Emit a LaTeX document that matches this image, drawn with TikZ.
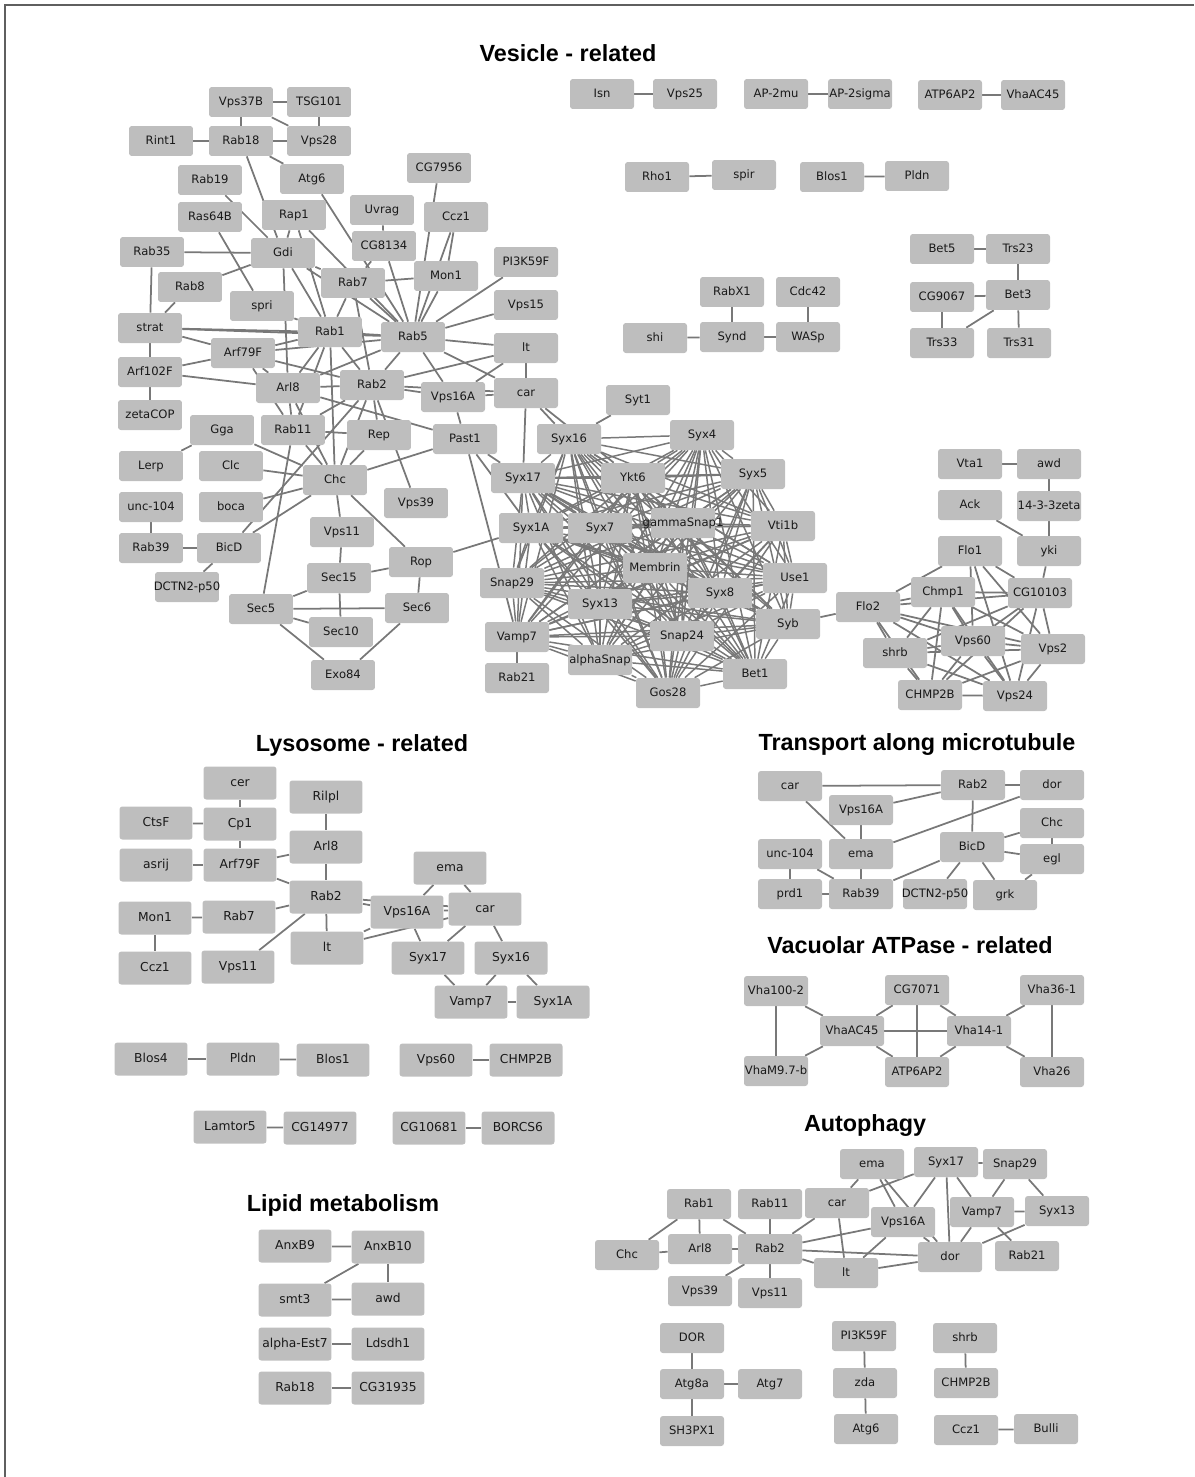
\documentclass[tikz,border=0pt]{standalone}
\usepackage{fontspec}
\newfontfamily\genefont{DejaVu Sans}
\newfontfamily\headfont{Liberation Sans}
\usetikzlibrary{backgrounds}
\definecolor{boxgray}{RGB}{190,190,190}
\definecolor{edgegray}{RGB}{120,120,120}
\definecolor{framegray}{RGB}{95,95,95}
\tikzset{
  gene/.style={fill=boxgray, rounded corners=1.6pt, minimum width=1.28cm, minimum height=0.6cm,
    inner sep=0pt, text height=5pt, text depth=1.3pt, text=black!90,
    font=\genefont\fontsize{6.6}{8}\selectfont},
  widegene/.style={gene, minimum width=1.46cm, minimum height=0.66cm,
    font=\genefont\fontsize{7}{8.5}\selectfont},
  link/.style={draw=edgegray, line width=1pt},
  heading/.style={font=\headfont\bfseries\fontsize{13.3}{16}\selectfont}
}
\def\snarelist{Syx16,Syx4,Syx5,Ykt6,Syx17,Syx1A,Syx7,gammaSnap1,Vti1b,Membrin,Use1,Snap29,Syx8,Syx13,Syb,Vamp7,Snap24,alphaSnap,Bet1,Gos28}
\def\escrtlist{Chmp1,CG10103,Vps60,shrb,Vps2,CHMP2B,Vps24}
\begin{document}
\begin{tikzpicture}[x=0.02cm, y=-0.02cm]
\useasboundingbox (0,0) rectangle (1194,1477);
\draw[framegray, line width=1.2pt] (5,1477) -- (5,5) -- (1194,5);

% headings
\node[heading] (hVes) at (568,53) {Vesicle - related};
\node[heading] (hLys) at (362,745) {Lysosome - related};
\node[heading] (hTra) at (917,745) {Transport along microtubule};
\node[heading] (hVac) at (910,945) {Vacuolar ATPase - related};
\node[heading] (hAut) at (865,1125) {Autophagy};
\node[heading] (hLip) at (343,1205) {Lipid metabolism};

% vesicle - related
\foreach \n/\x/\y/\t in {
  Vps37B/241/102/Vps37B, TSG101/319/102/TSG101, Rint1/161/141/Rint1, Rab18/241/141/Rab18,
  Vps28/319/141/Vps28, Rab19/210/180/Rab19, Atg6/312/179/Atg6, CG7956/439/168/CG7956,
  Ras64B/210/217/Ras64B, Rap1/294/215/Rap1, Uvrag/382/210/Uvrag, Ccz1/456/217/Ccz1,
  Rab35/152/252/Rab35, Gdi/283/253/Gdi, CG8134/384/246/CG8134, PI3K59F/526/262/PI3K59F,
  Rab8/190/287/Rab8, Rab7/353/283/Rab7, Mon1/446/276/Mon1, spri/262/306/spri,
  Vps15/526/305/Vps15, strat/150/328/strat, Rab1/330/332/Rab1, Rab5/413/337/Rab5,
  lt/526/348/lt, Arf79F/243/353/Arf79F, Arf102F/150/372/Arf102F, Arl8/288/388/Arl8,
  Rab2/372/385/Rab2, Vps16A/453/397/Vps16A, car/526/393/car, zetaCOP/150/415/zetaCOP,
  Gga/222/430/Gga, Rab11/293/430/Rab11, Rep/379/435/Rep, Past1/465/439/Past1,
  Lerp/151/466/Lerp, Clc/231/466/Clc, Chc/335/480/Chc, Vps39/416/503/Vps39,
  unc104/151/507/unc-104, boca/231/507/boca, Rab39/151/548/Rab39, BicD/229/548/BicD,
  Vps11/342/532/Vps11, Rop/421/562/Rop, DCTN2p50/187/587/DCTN2-p50, Sec15/339/578/Sec15,
  Sec5/261/609/Sec5, Sec6/417/608/Sec6, Sec10/341/632/Sec10, Exo84/343/675/Exo84,
  Syt1/638/400/Syt1, Syx16/569/439/Syx16, Syx4/702/435/Syx4, Syx17/523/478/Syx17,
  Ykt6/633/478/Ykt6, Syx5/753/474/Syx5, Syx1A/531/528/Syx1A, Syx7/600/528/Syx7,
  gammaSnap1/683/523/gammaSnap1, Vti1b/783/526/Vti1b, Membrin/655/568/Membrin,
  Use1/795/578/Use1, Snap29/512/583/Snap29, Syx8/720/593/Syx8, Syx13/600/604/Syx13,
  Syb/788/624/Syb, Vamp7/517/637/Vamp7, Snap24/682/636/Snap24, alphaSnap/600/660/alphaSnap,
  Bet1/755/674/Bet1, Rab21/517/678/Rab21, Gos28/668/693/Gos28,
  Vta1/970/464/Vta1, awd/1049/464/awd, Ack/970/505/Ack, zeta1433/1049/506/14-3-3zeta,
  Flo1/970/551/Flo1, yki/1049/551/yki, Chmp1/943/592/Chmp1, CG10103/1040/593/CG10103,
  Flo2/868/607/Flo2, Vps60/973/641/Vps60, shrb/895/653/shrb, Vps2/1053/649/Vps2,
  CHMP2B/930/695/CHMP2B, Vps24/1015/696/Vps24,
  Isn/602/94/Isn, Vps25/685/94/Vps25, AP2mu/776/94/AP-2mu, AP2sigma/860/94/AP-2sigma,
  ATP6AP2/950/95/ATP6AP2, VhaAC45/1033/95/VhaAC45, Rho1/657/177/Rho1, spir/744/175/spir,
  Blos1/832/177/Blos1, Pldn/917/176/Pldn, Bet5/942/249/Bet5, Trs23/1018/249/Trs23,
  RabX1/732/292/RabX1, Cdc42/808/292/Cdc42, CG9067/942/297/CG9067, Bet3/1018/295/Bet3,
  shi/655/338/shi, Synd/732/337/Synd, WASp/808/337/WASp, Trs33/942/343/Trs33,
  Trs31/1019/343/Trs31}
  \node[gene] (\n) at (\x,\y) {\makebox[0pt]{\t}};

% lysosome - related
\foreach \n/\x/\y/\t in {
  lcer/240/783/cer, lRilpl/326/797/Rilpl, lCtsF/156/823/CtsF, lCp1/240/824/Cp1,
  lArl8/326/847/Arl8, lasrij/156/865/asrij, lArf79F/240/865/Arf79F, lema/450/868/ema,
  lRab2/326/897/Rab2, lcar/485/909/car, lVps16A/407/912/Vps16A, lMon1/155/918/Mon1,
  lRab7/239/917/Rab7, llt/327/948/lt, lCcz1/155/968/Ccz1, lVps11/238/967/Vps11,
  lSyx17/428/958/Syx17, lSyx16/511/958/Syx16, lVamp7/471/1002/Vamp7, lSyx1A/553/1002/Syx1A,
  lBlos4/151/1059/Blos4, lPldn/243/1059/Pldn, lBlos1/333/1060/Blos1, lVps60/436/1060/Vps60,
  lCHMP2B/526/1060/CHMP2B, lLamtor5/230/1127/Lamtor5, lCG14977/320/1128/CG14977,
  lCG10681/429/1128/CG10681, lBORCS6/518/1128/BORCS6}
  \node[widegene] (\n) at (\x,\y) {\makebox[0pt]{\t}};

% transport along microtubule, vacuolar ATPase, autophagy
\foreach \n/\x/\y/\t in {
  tcar/790/786/car, tRab2/973/785/Rab2, tdor/1052/785/dor, tVps16A/861/810/Vps16A,
  tChc/1052/823/Chc, tBicD/972/847/BicD, tunc104/790/854/unc-104, tema/861/854/ema,
  tegl/1052/859/egl, tprd1/790/894/prd1, tRab39/861/894/Rab39, tDCTN2p50/935/894/DCTN2-p50,
  tgrk/1005/895/grk,
  hVha1002/776/991/Vha100-2, hCG7071/917/990/CG7071, hVha361/1052/990/Vha36-1,
  hVhaAC45/852/1031/VhaAC45, hVha141/979/1031/Vha14-1, hVhaM97b/776/1071/VhaM9.7-b,
  hATP6AP2/917/1072/ATP6AP2, hVha26/1052/1072/Vha26,
  aema/872/1164/ema, aSyx17/946/1162/Syx17, aSnap29/1015/1164/Snap29, aRab1/699/1204/Rab1,
  aRab11/770/1204/Rab11, acar/837/1203/car, aVps16A/903/1222/Vps16A, aVamp7/982/1212/Vamp7,
  aSyx13/1057/1211/Syx13, aChc/627/1255/Chc, aArl8/700/1249/Arl8, aRab2/770/1249/Rab2,
  ador/950/1257/dor, aRab21/1027/1256/Rab21, alt/846/1273/lt, aVps39/700/1291/Vps39,
  aVps11/770/1293/Vps11, aDOR/692/1338/DOR, aPI3K59F/864/1336/PI3K59F, ashrb/965/1338/shrb,
  aAtg8a/692/1384/Atg8a, aAtg7/770/1384/Atg7, azda/865/1383/zda, aCHMP2B/966/1383/CHMP2B,
  aSH3PX1/692/1431/SH3PX1, aAtg6/866/1429/Atg6, aCcz1/966/1430/Ccz1, aBulli/1046/1429/Bulli}
  \node[gene] (\n) at (\x,\y) {\makebox[0pt]{\t}};

% lipid metabolism
\foreach \n/\x/\y/\t in {
  pAnxB9/295/1246/AnxB9, pAnxB10/388/1247/AnxB10, psmt3/295/1300/smt3, pawd/388/1299/awd,
  palphaEst7/295/1344/alpha-Est7, pLdsdh1/388/1344/Ldsdh1, pRab18/295/1388/Rab18,
  pCG31935/388/1388/CG31935}
  \node[widegene] (\n) at (\x,\y) {\makebox[0pt]{\t}};

\begin{scope}[on background layer]
  % vesicle cluster, left part
  \foreach \a/\b in {
    Vps37B/TSG101, Vps37B/Rab18, Vps37B/Vps28, TSG101/Vps28, Rint1/Rab18, Rab18/Vps28,
    Rab18/Atg6, Rab18/Gdi, Rab19/Gdi, Ras64B/spri, Rab35/Gdi, Rab35/strat, Rab8/Gdi,
    Rab8/strat, Rap1/Gdi, Rap1/Rab1, Rap1/Rab5, Atg6/Rab5, Uvrag/CG8134, CG8134/Rab5,
    CG8134/Rab7, CG7956/Rab5, Ccz1/Mon1, Ccz1/Rab5, Mon1/Rab7, Mon1/Rab5, PI3K59F/Rab5,
    Vps15/Rab5, Gdi/Rab1, Gdi/Rab7, Gdi/Rab5, Gdi/Arl8, spri/Rab1, strat/Rab1, strat/Rab5,
    strat/Arf79F, strat/Arf102F, Arf102F/zetaCOP, Arf102F/Arf79F, Arf102F/Arl8,
    Arf79F/Rab1, Arf79F/Rab5, Arf79F/Arl8, Arf79F/Rab2, Arf79F/Rab11, Rab7/Rab5, Rab7/Rab1,
    Rab7/Rab2, Rab1/Rab5, Rab1/Arl8, Rab1/Rab2, Rab1/Chc, Rab1/Rab11, Rab5/Rab2, Rab5/Arl8,
    Rab5/Vps16A, Rab5/car, Rab5/lt, lt/Rab2, lt/Vps16A, lt/car, Arl8/Rab2, Arl8/Rab11,
    Arl8/Chc, Arl8/Past1, Rab2/Vps16A, Rab2/Rab11, Rab2/Rep, Rab2/Chc, Rab2/Vps39,
    Rab2/BicD, Rab2/car, Vps16A/car, Vps16A/Past1, Rab11/Rep, Rab11/Chc, Rab11/Sec5,
    Gga/Lerp, Gga/Chc, Clc/Chc, boca/Chc, BicD/Chc, unc104/Rab39, Rab39/BicD,
    BicD/DCTN2p50, Rep/Chc, Chc/Vps11, Chc/Rop, Chc/Past1, Vps11/Sec15, Sec15/Rop,
    Sec15/Sec5, Sec15/Sec10, Sec5/Sec6, Sec5/Sec10, Sec5/Exo84, Sec6/Exo84, Rop/Sec6,
    Rop/Syx1A, Past1/Syx17, Past1/Syx1A, Past1/Vamp7, car/Syx17, car/Syx16, car/Ykt6,
    Syt1/Syx16, Vamp7/Rab21, Syb/Flo2}
    \draw[link] (\a) -- (\b);
  % SNARE core
  \foreach \a [count=\i] in \snarelist {
    \foreach \b [count=\j] in \snarelist {
      \ifnum\j>\i\relax \draw[link, line width=0.85pt] (\a) -- (\b);\fi
    }
  }
  % ESCRT part
  \foreach \a [count=\i] in \escrtlist {
    \foreach \b [count=\j] in \escrtlist {
      \ifnum\j>\i\relax \draw[link] (\a) -- (\b);\fi
    }
  }
  \foreach \a/\b in {
    Vta1/awd, awd/zeta1433, zeta1433/yki, Ack/yki, yki/CG10103, Flo1/Flo2, Flo1/Vps60,
    Flo1/CG10103, Flo1/Vps2, Flo1/Vps24, Flo2/Chmp1, Flo2/Vps60, Flo2/shrb, Flo2/CHMP2B,
    Flo2/Vps24, Flo2/Vps2, Flo2/CG10103,
    Isn/Vps25, AP2mu/AP2sigma, ATP6AP2/VhaAC45, Rho1/spir, Blos1/Pldn, Bet5/Trs23,
    Trs23/Bet3, CG9067/Bet3, CG9067/Trs33, Bet3/Trs33, Bet3/Trs31, RabX1/Synd,
    Cdc42/WASp, shi/Synd, Synd/WASp}
    \draw[link] (\a) -- (\b);
  % lysosome
  \foreach \a/\b in {
    lcer/lCp1, lCtsF/lCp1, lCp1/lArf79F, lasrij/lArf79F, lArf79F/lArl8, lArf79F/lRab2,
    lRilpl/lArl8, lArl8/lRab2, lMon1/lRab7, lMon1/lCcz1, lRab7/lRab2, lVps11/lRab2,
    lRab2/llt, lRab2/lVps16A, lRab2/lcar, llt/lVps16A, llt/lcar, lVps16A/lcar,
    lema/lVps16A, lema/lcar, lVps16A/lSyx17, lcar/lSyx17, lcar/lSyx16, lSyx17/lVamp7,
    lSyx16/lVamp7, lSyx16/lSyx1A, lVamp7/lSyx1A, lBlos4/lPldn, lPldn/lBlos1,
    lVps60/lCHMP2B, lLamtor5/lCG14977, lCG10681/lBORCS6}
    \draw[link] (\a) -- (\b);
  % transport, vacuolar ATPase
  \foreach \a/\b in {
    tcar/tRab2, tcar/tema, tVps16A/tRab2, tVps16A/tema, tRab2/tdor, tRab2/tBicD,
    tdor/tema, tChc/tBicD, tChc/tegl, tBicD/tegl, tunc104/tprd1, tunc104/tRab39,
    tema/tRab39, tprd1/tRab39, tBicD/tRab39, tBicD/tDCTN2p50, tBicD/tgrk, tegl/tgrk,
    hVha1002/hVhaM97b, hVha1002/hVhaAC45, hVhaM97b/hVhaAC45, hCG7071/hVhaAC45,
    hCG7071/hATP6AP2, hCG7071/hVha141, hVhaAC45/hVha141, hVhaAC45/hATP6AP2,
    hATP6AP2/hVha141, hVha361/hVha141, hVha361/hVha26, hVha141/hVha26}
    \draw[link] (\a) -- (\b);
  % autophagy, lipid metabolism
  \foreach \a/\b in {
    aRab1/aChc, aRab1/aArl8, aRab1/aRab2, aChc/aArl8, aArl8/aRab2, aRab11/aRab2,
    aRab2/acar, aRab2/aVps16A, aRab2/ador, aRab2/alt, aRab2/aVps39, aRab2/aVps11,
    acar/aema, acar/aSyx17, acar/alt, aema/aVps16A, aema/ador, aSyx17/aVps16A,
    aSyx17/aSnap29, aSyx17/aVamp7, aSyx17/ador, aSnap29/aVamp7, aSnap29/aSyx13,
    aVamp7/aSyx13, aVamp7/ador, aVamp7/aRab21, aVps16A/ador, aVps16A/alt, alt/ador,
    aSyx13/ador, aDOR/aAtg8a, aAtg8a/aAtg7, aAtg8a/aSH3PX1, aPI3K59F/azda, azda/aAtg6,
    ashrb/aCHMP2B, aCcz1/aBulli,
    pAnxB9/pAnxB10, pAnxB10/psmt3, pAnxB10/pawd, psmt3/pawd, palphaEst7/pLdsdh1,
    pRab18/pCG31935}
    \draw[link] (\a) -- (\b);
\end{scope}
\end{tikzpicture}
\end{document}
